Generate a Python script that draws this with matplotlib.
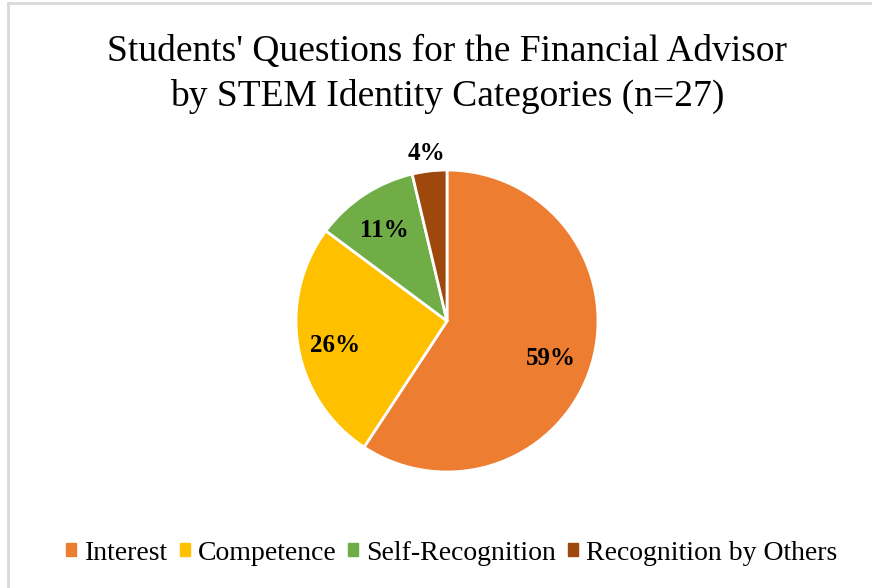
import matplotlib.pyplot as plt
from matplotlib.lines import Line2D

# Question counts per STEM identity category (n=27)
categories = ['Interest', 'Competence', 'Self-Recognition', 'Recognition by Others']
counts = [16, 7, 3, 1]
colors = ['#ED7D31', '#FFC000', '#70AD47', '#9E480E']

plt.rcParams['font.family'] = ['Liberation Serif', 'DejaVu Serif']

fig = plt.figure(figsize=(8.72, 5.88), dpi=100)

# pie axes, centred at (447, 320) px with radius ~150 px
r = 151
cx, cy = 447, 321
pax = fig.add_axes([(cx - r) / 872, 1 - (cy + r) / 588, 2 * r / 872, 2 * r / 588])
wedges, texts, autotexts = pax.pie(
    counts, colors=colors, startangle=90, counterclock=False,
    autopct=lambda p: f'{p:.0f}%', pctdistance=0.75,
    wedgeprops=dict(edgecolor='white', linewidth=2),
    textprops=dict(fontsize=18, fontweight='bold', color='black'))
pax.set_xlim(-1, 1)
pax.set_ylim(-1, 1)
pax.set_aspect('equal')

# nudge labels down a little; smallest slice gets its label outside
for i, t in enumerate(autotexts):
    x, y = t.get_position()
    if i == 3:
        x, y = x * 1.15 / 0.75, y * 1.15 / 0.75
    if i == 0:
        x -= 0.03
    t.set_position((x, y - 0.03))
    t.set_clip_on(False)

fig.text(447 / 872, 1 - 74 / 588,
         "Students' Questions for the Financial Advisor\nby STEM Identity Categories (n=27)",
         ha='center', va='center', fontsize=27, linespacing=1.37)

handles = [plt.Rectangle((0, 0), 1, 1, color=c) for c in colors]
fig.legend(handles, categories, loc='center', bbox_to_anchor=(452 / 872, 1 - 553 / 588),
           ncol=4, frameon=False, fontsize=20, handlelength=0.36, handleheight=0.36,
           handletextpad=0.29, columnspacing=0.43)

# light border along top and left edges
fig.add_artist(Line2D([8 / 872, 8 / 872], [0, 1 - 3 / 588], color='#D9D9D9', lw=2))
fig.add_artist(Line2D([8 / 872, 1], [1 - 3 / 588, 1 - 3 / 588], color='#D9D9D9', lw=2))

fig.savefig('out.png', dpi=100)
